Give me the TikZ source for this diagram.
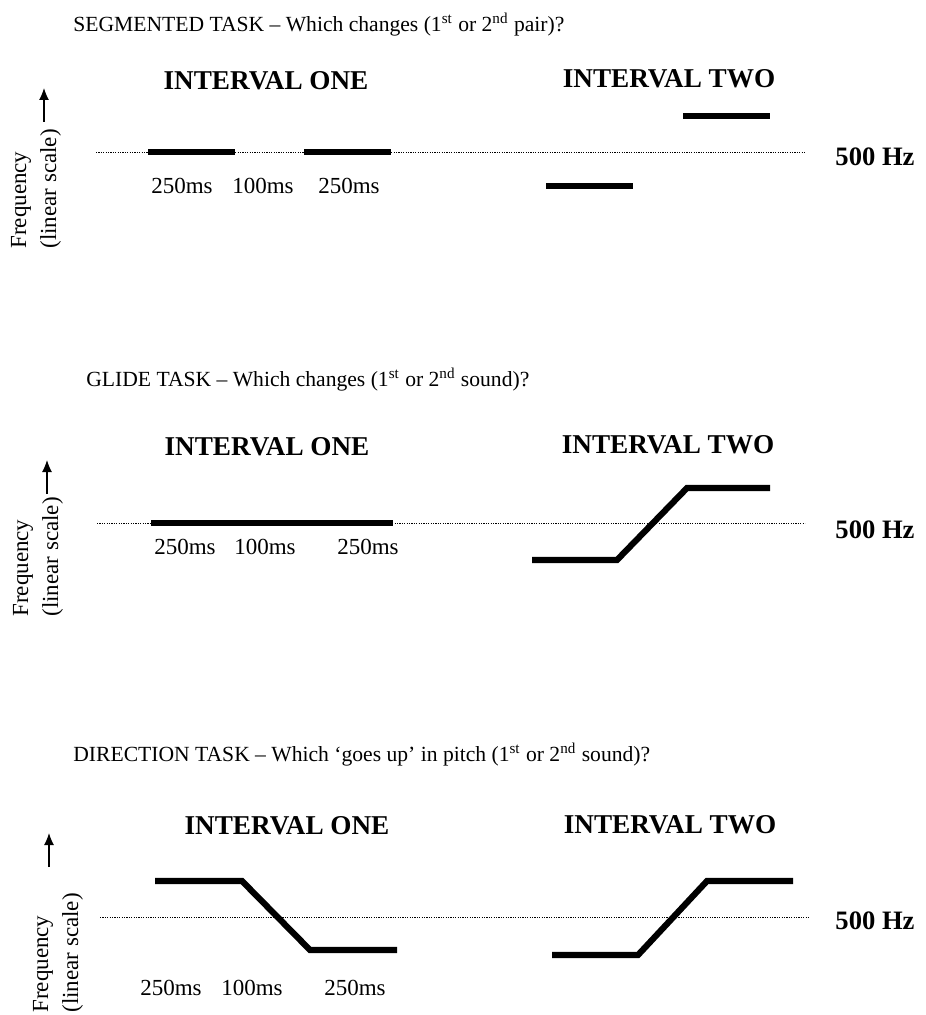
\documentclass[tikz,border=0pt]{standalone}
\usepackage{fontspec}
\setmainfont{Liberation Serif}
\usepackage{tikz}
\usetikzlibrary{arrows.meta}

\tikzset{
    tone/.style={line width=3.1pt},
    hzline/.style={line width=0.45pt, dash pattern=on 0.6pt off 0.6pt},
    task/.style={anchor=west, inner sep=0pt, font=\fontsize{10.8}{13}\selectfont},
    interval/.style={inner sep=0pt, font=\fontsize{13.6}{16}\selectfont\bfseries},
    ms/.style={inner sep=0pt, font=\fontsize{11.5}{13.8}\selectfont},
    hz/.style={inner sep=0pt, font=\fontsize{13.3}{16}\selectfont\bfseries},
    freq/.style={rotate=90, anchor=west, inner sep=0pt, align=left, font=\fontsize{11.5}{15}\selectfont},
    up/.style={line width=0.6pt, -{Latex[length=6pt,width=5pt]}}
}

\begin{document}
\begin{tikzpicture}[x=0.5pt,y=-0.5pt]
    \useasboundingbox (0,0) rectangle (925,1015);

    % segmented
    \node[task] (t1) at (73,25) {SEGMENTED TASK – Which changes (1\textsuperscript{st} or 2\textsuperscript{nd} pair)?};
    \node[interval] (one1) at (266,81) {INTERVAL ONE};
    \node[interval] (two1) at (669,79) {INTERVAL TWO};

    \coordinate (l1) at (96,152);
    \coordinate (r1) at (805,152);
    \draw[hzline] (l1) -- (r1);
    \node[hz] (hz1) at (875,157) {500 Hz};

    \coordinate (a1) at (148,152);
    \coordinate (b1) at (235,152);
    \coordinate (c1) at (304,152);
    \coordinate (d1) at (391,152);
    \coordinate (e1) at (546,186);
    \coordinate (f1) at (633,186);
    \coordinate (g1) at (683,116);
    \coordinate (h1) at (770,116);
    \draw[tone] (a1) -- (b1);
    \draw[tone] (c1) -- (d1);
    \draw[tone] (e1) -- (f1);
    \draw[tone] (g1) -- (h1);

    \node[ms] (m11) at (182,186) {250ms};
    \node[ms] (m12) at (263,186) {100ms};
    \node[ms] (m13) at (349,186) {250ms};

    \node[freq] (fq1) at (36,249) {Frequency\\(linear scale)};
    \coordinate (p1) at (44,122);
    \coordinate (q1) at (44,88);
    \draw[up] (p1) -- (q1);

    % glide
    \node[task] (t2) at (86,380) {GLIDE TASK – Which changes (1\textsuperscript{st} or 2\textsuperscript{nd} sound)?};
    \node[interval] (one2) at (267,447) {INTERVAL ONE};
    \node[interval] (two2) at (668,445) {INTERVAL TWO};

    \coordinate (l2) at (97,523);
    \coordinate (r2) at (805,523);
    \draw[hzline] (l2) -- (r2);
    \node[hz] (hz2) at (875,530) {500 Hz};

    \coordinate (a2) at (151,523);
    \coordinate (b2) at (393,523);
    \coordinate (e2) at (532,560);
    \coordinate (f2) at (617,560);
    \coordinate (g2) at (687,488);
    \coordinate (h2) at (770,488);
    \draw[tone] (a2) -- (b2);
    \draw[tone] (e2) -- (f2) -- (g2) -- (h2);

    \node[ms] (m21) at (185,547) {250ms};
    \node[ms] (m22) at (265,547) {100ms};
    \node[ms] (m23) at (368,547) {250ms};

    \node[freq] (fq2) at (38,617) {Frequency\\(linear scale)};
    \coordinate (p2) at (47,494);
    \coordinate (q2) at (47,460);
    \draw[up] (p2) -- (q2);

    % direction
    \node[task] (t3) at (73,755) {DIRECTION TASK – Which ‘goes up’ in pitch (1\textsuperscript{st} or 2\textsuperscript{nd} sound)?};
    \node[interval] (one3) at (287,826) {INTERVAL ONE};
    \node[interval] (two3) at (670,825) {INTERVAL TWO};

    \coordinate (l3) at (100,917);
    \coordinate (r3) at (810,917);
    \draw[hzline] (l3) -- (r3);
    \node[hz] (hz3) at (875,921) {500 Hz};

    \coordinate (a3) at (155,881);
    \coordinate (b3) at (242,881);
    \coordinate (c3) at (310,950);
    \coordinate (d3) at (397,950);
    \coordinate (e3) at (552,955);
    \coordinate (f3) at (638,955);
    \coordinate (g3) at (707,881);
    \coordinate (h3) at (793,881);
    \draw[tone] (a3) -- (b3) -- (c3) -- (d3);
    \draw[tone] (e3) -- (f3) -- (g3) -- (h3);

    \node[ms] (m31) at (171,988) {250ms};
    \node[ms] (m32) at (252,988) {100ms};
    \node[ms] (m33) at (355,988) {250ms};

    \node[freq] (fq3) at (58,1013) {Frequency\\(linear scale)};
    \coordinate (p3) at (49,867);
    \coordinate (q3) at (49,833);
    \draw[up] (p3) -- (q3);
\end{tikzpicture}
\end{document}
